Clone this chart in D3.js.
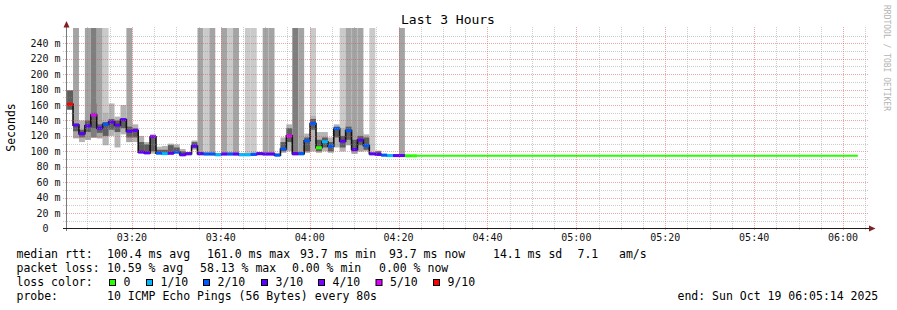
<!DOCTYPE html>
<html><head><meta charset="utf-8">
<script src="https://cdn.jsdelivr.net/npm/d3@7"></script>
<style>
body{margin:0;background:#fff;}
svg{display:block;font-family:"DejaVu Sans Mono",monospace;}
</style></head><body>
<svg id="c" width="897" height="310"></svg>
<script>
// ---------- data ----------
const rangeStart = "2025-10-19 03:05:14";
const rangeEnd   = "2025-10-19 06:05:14";
const dataStart  = "2025-10-19 03:05:25";
const stepSeconds = 80;
// median rtt per step (ms)
const median  = [161,134,123,133,147,130,135,138,134,141,126,127,99,98,119,97.6,97,97.5,99,95.5,97,107,97,96.5,96.5,95.5,96.5,96.5,96.5,95.5,95.5,96,97,96.5,96.5,95,103,120,97,97,113.7,136,104.6,112.4,106.7,129.4,113.2,126.8,102.4,114.5,107.6,96.8,96,95,94.5,94.5,94.5,94.2,94.2];
// lost pings of 10 per step
const loss    = [9,3,3,3,5,3,2,3,3,3,3,3,3,3,4,2,1,3,2,3,3,3,3,2,2,1,3,2,3,1,1,2,3,3,3,2,2,5,3,2,2,2,0,1,2,2,3,2,3,3,2,3,3,2,1,3,3,0,0];
// smoke: full range and dense core (ms)
const smokeLo = [154,117,112,115,118,117,108,120,105,122,112,112,98,97,97,97,96,96,97,95,95,102,95,95,95,94,95,95,95,94,94,95,95,95,95,94,98,100,95,95,98,100,98,100,98,105,100,108,97,100,100,95,95,94,94,94,94,94,94];
const smokeHi = [179,138,140,145,162,140,150,162,145,160,138,135,120,112,122,106,107,110,109,103,99,114,99,99,99,98,99,99,99,98,98,99,99,99,99,98,118,135,100,100,123,146,125,125,118,135,130,137,118,125,122,98,101,97,96,96,96,95,95];
const coreLo  = [154,126,118,125,130,124,120,128,125,130,118,118,99,97,100,97,98,97,98,95,95,104,96,96,96,95,96,96,96,95,95,95,96,96,96,94,100,112,96,96,100,128,100,105,100,118,105,115,100,108,102,96,96,94,94,94,94,94,94];
const coreHi  = [179,136,128,140,150,135,138,142,140,143,132,130,112,109,118,102,102,108,105,100,98,112,98,98,98,97,98,98,98,97,97,97,98,98,98,96,112,130,98,98,118,142,115,118,112,132,120,132,115,120,118,97,100,96,95,95,95,94.5,94.5];
// pings above the graph top: 0 none, 1..3 shade of the column
const spike   = [0,2,0,2,3,2,1,0,0,0,2,0,0,0,0,0,0,0,0,0,0,0,2,1,2,0,2,1,2,0,1,1,0,2,2,0,0,0,3,2,0,1,0,0,0,0,1,2,2,2,0,1,0,0,0,0,2,0,0];
const tailFrom = "2025-10-19 04:23:40", tailTo = "2025-10-19 06:03:20", tailValue = 94.2;

const yTicks = [0,20,40,60,80,100,120,140,160,180,200,220,240];
const xTickLabels = ["03:20","03:40","04:00","04:20","04:40","05:00","05:20","05:40","06:00"];
const lossColors = ["#26ff00","#00b8ff","#0059ff","#5e00ff","#7e00ff","#dd00ff","#ff0000"];
const lossLabels = ["0","1/10","2/10","3/10","4/10","5/10","9/10"];
const shadeColors = ["none","#cacaca","#a4a4a4","#7e7e7e"];

const legendRows = [
  [["median rtt:",16.5],["100.4 ms avg",107],["161.0 ms max",207],["93.7 ms min",300],["93.7 ms now",389],["14.1 ms sd",493],["7.1",577.5],["am/s",619]],
  [["packet loss:",16.5],["10.59 % avg",107],["58.13 % max",200],["0.00 % min",292],["0.00 % now",379]],
  [["loss color:",16.5]],
  [["probe:",16.5],["10 ICMP Echo Pings (56 Bytes) every 80s",107],["end: Sun Oct 19 06:05:14 2025",677.5]]
];
const swatchX = [109,146,203,261,318,375.5,433];

// ---------- drawing ----------
const parse = d3.timeParse("%Y-%m-%d %H:%M:%S");
const t0 = parse(rangeStart), t1 = parse(rangeEnd), ds = parse(dataStart);
const svg = d3.select("#c");
const x = d3.scaleTime().domain([t0, t1]).range([66.3, 866.3]);
const y = d3.scaleLinear().domain([0, 259.2]).range([228.5, 28.5]);
const stepT = k => new Date(ds.getTime() + k*stepSeconds*1000);
const lc = l => l > 5 ? 6 : l;

svg.append("rect").attr("width",897).attr("height",310).attr("fill","#fff");

svg.append("defs").append("clipPath").attr("id","pc")
  .append("rect").attr("x",66.5).attr("y",28).attr("width",800).attr("height",200.5);

const plot = svg.append("g").attr("clip-path","url(#pc)");
const idx = d3.range(median.length);
const x0 = k => x(stepT(k)), x1 = k => x(stepT(k+1));

// spike columns (pings above top)
plot.selectAll("rect.spk").data(idx.filter(k => spike[k] > 0)).join("rect")
  .attr("x", x0).attr("width", k => x1(k)-x0(k))
  .attr("y", 0).attr("height", k => y(smokeLo[k]))
  .attr("fill", k => shadeColors[spike[k]]);
// outer smoke
plot.selectAll("rect.so").data(idx).join("rect")
  .attr("x", x0).attr("width", k => x1(k)-x0(k))
  .attr("y", k => y(smokeHi[k])).attr("height", k => y(smokeLo[k]) - y(smokeHi[k]))
  .attr("fill", k => spike[k] >= 2 ? shadeColors[spike[k]] : "#b4b4b4");
// core smoke
plot.selectAll("rect.sc").data(idx).join("rect")
  .attr("x", x0).attr("width", k => x1(k)-x0(k))
  .attr("y", k => y(coreHi[k])).attr("height", k => y(coreLo[k]) - y(coreHi[k]))
  .attr("fill", "#5e5e5e");

// grid (drawn over smoke, as rrdtool does)
const grid = svg.append("g");
const minorY = d3.range(10, 260, 10).filter(v => v % 20 !== 0);
const majorY = d3.range(20, 260, 20);
const hy = v => Math.round(y(v)) + 0.5;
grid.selectAll("line.hmin").data(minorY).join("line")
  .attr("x1",63).attr("x2",869).attr("y1",hy).attr("y2",hy)
  .attr("stroke","rgba(143,143,143,0.45)").attr("stroke-dasharray","1,1");
grid.selectAll("line.hmaj").data(majorY).join("line")
  .attr("x1",63).attr("x2",869).attr("y1",hy).attr("y2",hy)
  .attr("stroke","rgba(222,79,79,0.5)").attr("stroke-dasharray","1,1");
const minorX = d3.timeMinute.every(5).range(t0, t1).filter(t => t.getMinutes() % 20 !== 0);
const majorX = d3.timeMinute.every(20).range(t0, t1);
const vx = t => Math.round(x(t)) + 0.5;
grid.selectAll("line.vmin").data(minorX).join("line")
  .attr("x1",vx).attr("x2",vx).attr("y1",27).attr("y2",231)
  .attr("stroke","rgba(143,143,143,0.45)").attr("stroke-dasharray","1,1");
grid.selectAll("line.vmaj").data(majorX).join("line")
  .attr("x1",vx).attr("x2",vx).attr("y1",27).attr("y2",231)
  .attr("stroke","rgba(222,79,79,0.5)").attr("stroke-dasharray","1,1");

// median line
const pts = idx.map(k => [x0(k), y(median[k])]);
pts.push([x1(median.length-1), y(median[median.length-1])]);
plot.append("path").attr("d", d3.line().curve(d3.curveStepAfter)(pts))
  .attr("fill","none").attr("stroke","#101010").attr("stroke-width",1.6);
// tail
plot.append("line").attr("x1", x(parse(tailFrom))).attr("x2", x(parse(tailTo)))
  .attr("y1", y(tailValue)).attr("y2", y(tailValue))
  .attr("stroke", lossColors[0]).attr("stroke-width", 2);
// loss-colored median marks
plot.selectAll("rect.lm").data(idx).join("rect")
  .attr("x", x0).attr("width", k => x1(k)-x0(k))
  .attr("y", k => y(median[k]) - 1.5).attr("height", 3)
  .attr("fill", k => lossColors[lc(loss[k])]);

// axes
svg.append("line").attr("x1",66.5).attr("x2",66.5).attr("y1",231).attr("y2",25)
  .attr("stroke","#7a7a7a");
svg.append("line").attr("x1",63).attr("x2",870).attr("y1",228.5).attr("y2",228.5)
  .attr("stroke","#1f1f1f");
svg.append("path").attr("d","M63.5,27.5L69.5,27.5L66.5,21Z").attr("fill","#801f1f");
svg.append("path").attr("d","M869,225.5L869,231.5L875.5,228.5Z").attr("fill","#801f1f");

// y labels
svg.selectAll("text.yl").data(yTicks).join("text")
  .attr("x", v => v === 0 ? 48.5 : 60.5).attr("y", v => y(v) + 3.5)
  .attr("text-anchor","end").attr("font-size","10px").attr("fill","#111")
  .text(v => v === 0 ? "0" : v + " m");
// x labels
svg.selectAll("text.xl").data(majorX.slice(0, xTickLabels.length)).join("text")
  .attr("x", t => x(t)).attr("y", 241).attr("text-anchor","middle")
  .attr("font-size","10px").attr("fill","#111")
  .text((t,i) => xTickLabels[i]);

// title, axis title, watermark
svg.append("text").attr("x",448).attr("y",24).attr("text-anchor","middle")
  .attr("font-size","13px").attr("fill","#000").text("Last 3 Hours");
svg.append("text").attr("transform","translate(15,127.5) rotate(-90)")
  .attr("text-anchor","middle").attr("font-size","11.5px").attr("fill","#000").text("Seconds");
svg.append("text").attr("transform","translate(884,5) rotate(90)")
  .attr("font-size","8px").attr("fill","#b4b4b4").text("RRDTOOL / TOBI OETIKER");

// legend
const lg = svg.append("g").attr("font-size","11.5px").attr("fill","#000");
legendRows.forEach((row, r) => {
  row.forEach(([txt, xx]) => {
    lg.append("text").attr("x", xx).attr("y", 258 + r*14).attr("xml:space","preserve").text(txt);
  });
});
lossColors.forEach((c, i) => {
  lg.append("rect").attr("x", swatchX[i] + 0.5).attr("y", 279.5).attr("width", 6).attr("height", 6)
    .attr("fill", c).attr("stroke", "#000").attr("stroke-width", 1);
  lg.append("text").attr("x", swatchX[i] + 14.5).attr("y", 286).text(lossLabels[i]);
});
</script>
</body></html>
